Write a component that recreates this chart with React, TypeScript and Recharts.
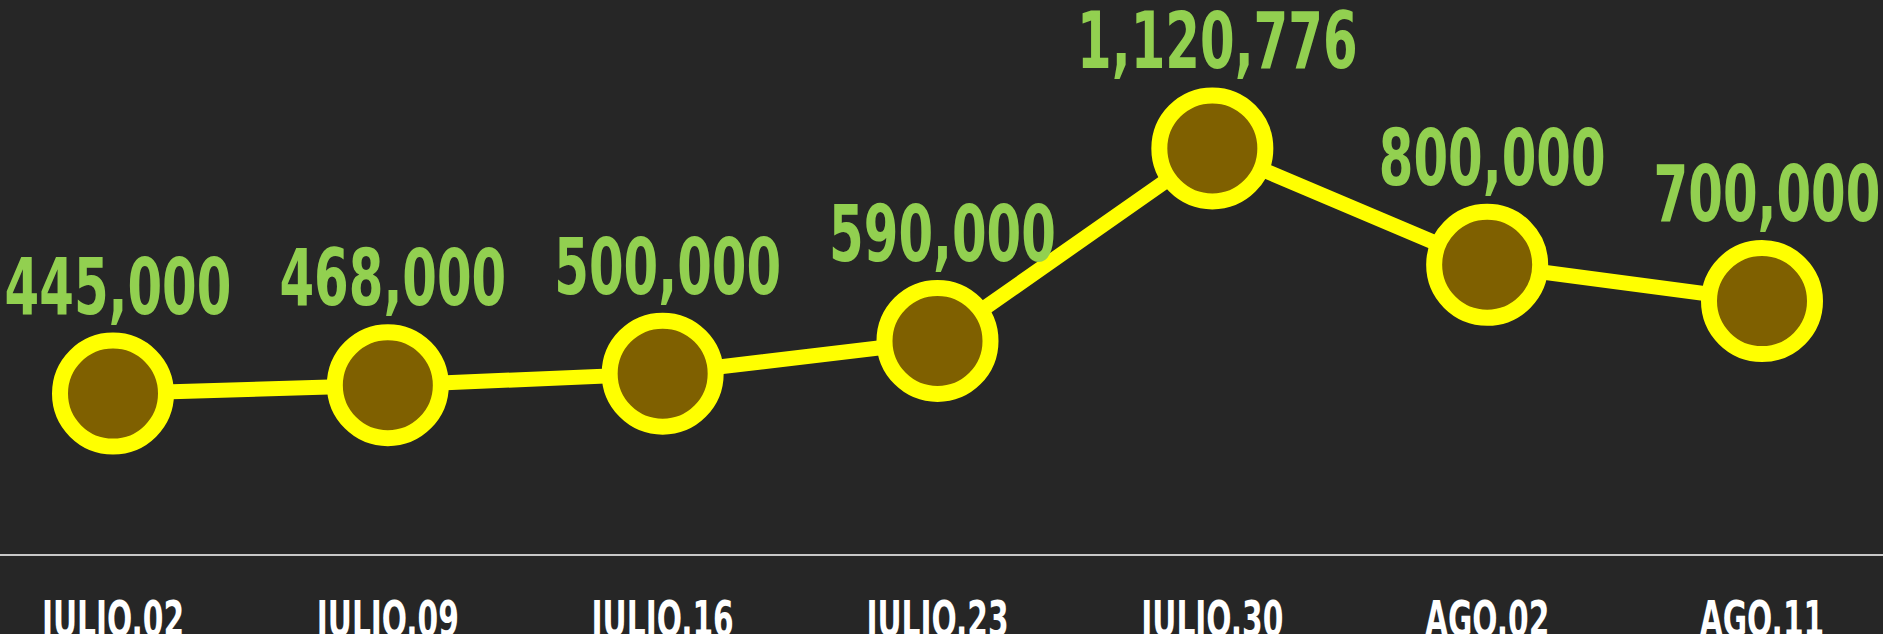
import React from "react";
import { LineChart, Line, XAxis, YAxis, LabelList } from "recharts";

const categories = ["JULIO.02", "JULIO.09", "JULIO.16", "JULIO.23", "JULIO.30", "AGO.02", "AGO.11"];
const values = [445000, 468000, 500000, 590000, 1120776, 800000, 700000];

const data = categories.map((c, i) => ({ name: c, value: values[i] }));

const FONT = "'DejaVu Sans Condensed', 'Liberation Sans Narrow', sans-serif";

const Tick = (props: any) => {
  const { x, y, payload } = props;
  return (
    <text
      transform={`translate(${x},${y + 73}) scale(0.66,1)`}
      textAnchor="middle"
      fill="#ffffff"
      fontFamily={FONT}
      fontWeight="bold"
      fontSize={50}
    >
      {payload.value}
    </text>
  );
};

const ValueLabel = (props: any) => {
  const { x, y, value } = props;
  return (
    <text
      transform={`translate(${x + 5},${y - 80}) scale(0.71,1)`}
      textAnchor="middle"
      fill="#92D050"
      fontFamily={FONT}
      fontWeight="bold"
      fontSize={78}
    >
      {Number(value).toLocaleString("en-US")}
    </text>
  );
};

export default function App() {
  return (
    <div style={{ position: "fixed", left: 0, top: 0, width: 1883, height: 634, background: "#262626" }}>
      <LineChart width={1883} height={634} data={data} margin={{ top: 0, right: 0, bottom: 0, left: 0 }}>
        <XAxis
          dataKey="name"
          padding={{ left: 113, right: 121 }}
          axisLine={{ stroke: "#c8c8c8", strokeWidth: 2 }}
          tickLine={false}
          height={79}
          tick={<Tick />}
          interval={0}
        />
        <YAxis hide domain={[0, 1530000]} />
        <Line
          type="linear"
          dataKey="value"
          stroke="#FFFF00"
          strokeWidth={15}
          dot={{ r: 53, fill: "#7F6000", stroke: "#FFFF00", strokeWidth: 16 }}
          activeDot={false}
          isAnimationActive={false}
        >
          <LabelList dataKey="value" content={<ValueLabel />} />
        </Line>
      </LineChart>
    </div>
  );
}
